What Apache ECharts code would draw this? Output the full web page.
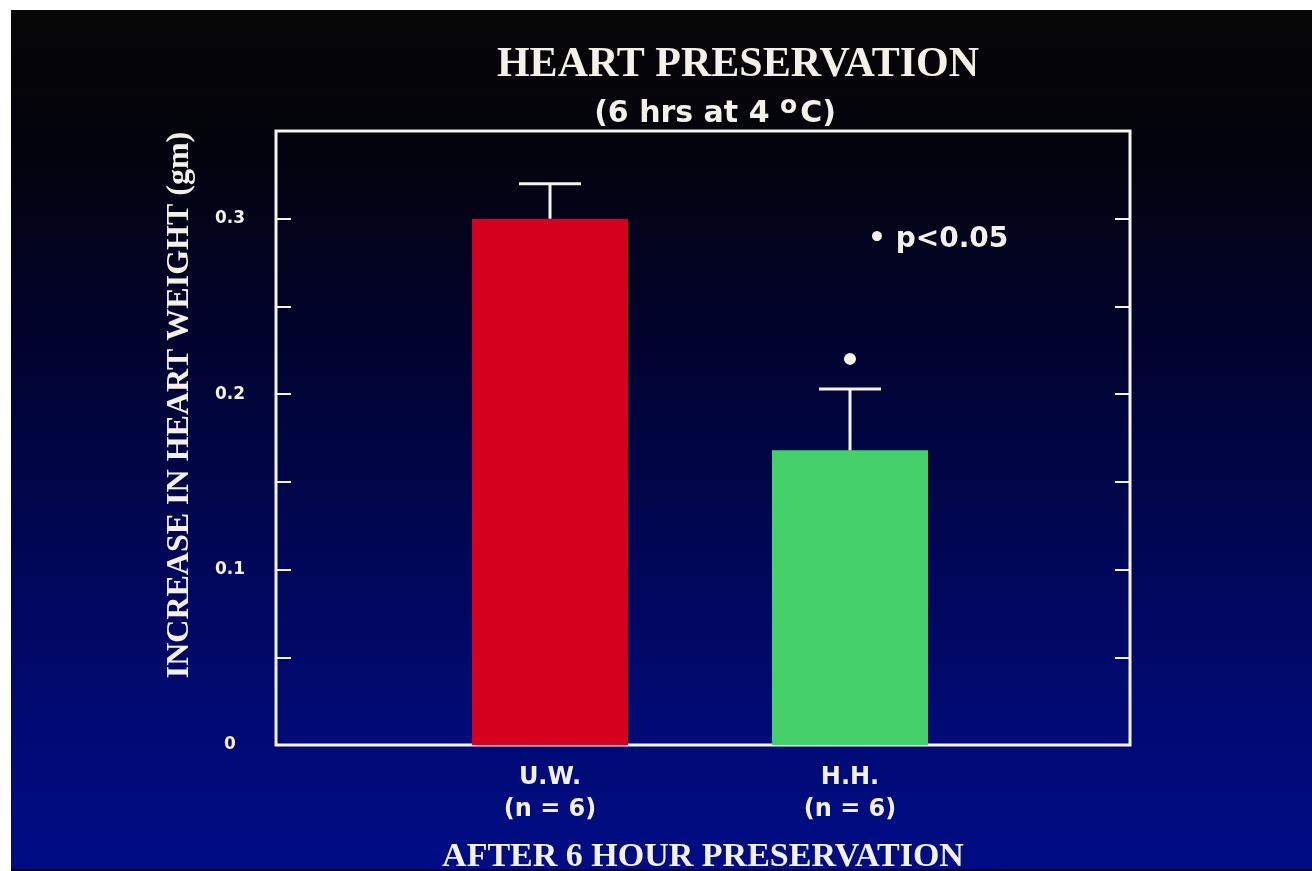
<!DOCTYPE html>
<html>
<head>
<meta charset="utf-8">
<script src="https://cdn.jsdelivr.net/npm/echarts@6/dist/echarts.min.js"></script>
<style>
  html, body { margin: 0; padding: 0; background: #ffffff; width: 1312px; height: 871px; overflow: hidden; }
  #wrap { position: absolute; left: 11px; top: 10px; width: 1301px; height: 861px; background: #000; }
  #chart { position: absolute; left: 0; top: 0; width: 1301px; height: 859px; }
</style>
</head>
<body>
<div id="wrap"><div id="chart"></div></div>
<script>
// ---- data ----
var categories = ['U.W.\n(n = 6)', 'H.H.\n(n = 6)'];
var meanValues = [0.300, 0.168];
var errorUpper = [0.320, 0.203];
var significance = ['', '*'];
var barColors = ['#d4001e', '#45d06c'];
var yTickValues = [0, 0.05, 0.10, 0.15, 0.20, 0.25, 0.30, 0.35];
var yLabelValues = [0, 0.1, 0.2, 0.3];
var yLabelText = ['0', '0.1', '0.2', '0.3'];

var txt = '#f3f1ea';
var sans = 'DejaVu Sans';
var serif = 'Liberation Serif';
var chart = echarts.init(document.getElementById('chart'));

var barData = meanValues.map(function (v, i) {
  return { value: v, itemStyle: { color: barColors[i] } };
});
var errData = meanValues.map(function (v, i) { return [i, v, errorUpper[i]]; });

var option = {
  animation: false,
  backgroundColor: {
    type: 'linear', x: 0, y: 0, x2: 0, y2: 1,
    colorStops: [
      { offset: 0, color: '#060606' },
      { offset: 0.15, color: '#03030b' },
      { offset: 0.38, color: '#01032c' },
      { offset: 0.62, color: '#010654' },
      { offset: 0.85, color: '#000a76' },
      { offset: 1, color: '#000c84' }
    ]
  },
  title: [
    {
      text: 'HEART PRESERVATION',
      left: 722, top: 29, textAlign: 'center',
      textStyle: { color: txt, fontFamily: serif, fontWeight: 'bold', fontSize: 42 }
    },
    {
      text: '(6 hrs at 4 {sup|o}C)',
      left: 699, top: 79, textAlign: 'center',
      textStyle: {
        color: txt, fontFamily: sans, fontWeight: 'bold', fontSize: 30,
        rich: {
          sup: { color: txt, fontFamily: sans, fontWeight: 'bold', fontSize: 25, verticalAlign: 'bottom', padding: [0, 3, 15, 0] }
        }
      }
    },
    {
      text: '\u2022 p<0.05',
      left: 852, top: 211,
      textStyle: { color: txt, fontFamily: sans, fontWeight: 'bold', fontSize: 28 }
    }
  ],
  grid: [
    { left: 265, top: 121, width: 854, height: 614, show: true, borderColor: '#f6f4ee', borderWidth: 3, backgroundColor: 'transparent', outerBoundsMode: 'none', containLabel: false },
    { left: 389, top: 121, width: 600, height: 614, outerBoundsMode: 'none', containLabel: false }
  ],
  xAxis: [
    {
      gridIndex: 0, type: 'category', data: [''],
      axisLine: { show: false }, axisTick: { show: false }, axisLabel: { show: false },
      name: 'AFTER 6 HOUR PRESERVATION', nameLocation: 'middle', nameGap: 95,
      nameTextStyle: { color: txt, fontFamily: serif, fontWeight: 'bold', fontSize: 34 }
    },
    {
      gridIndex: 1, type: 'category', data: categories,
      axisLine: { show: false }, axisTick: { show: false },
      axisLabel: { color: txt, fontFamily: sans, fontWeight: 'bold', fontSize: 24, lineHeight: 32, margin: 17 }
    }
  ],
  yAxis: [
    {
      gridIndex: 0, type: 'value', min: 0, max: 0.35, position: 'left',
      axisLine: { show: false },
      splitLine: { show: false },
      axisTick: { show: true, inside: true, length: 15, customValues: yTickValues, lineStyle: { color: '#f6f4ee', width: 2 } },
      axisLabel: {
        customValues: yLabelValues, margin: 46, align: 'center',
        color: txt, fontFamily: sans, fontWeight: 'bold', fontSize: 17,
        formatter: function (v) {
          var idx = yLabelValues.findIndex(function (x) { return Math.abs(x - v) < 1e-9; });
          return idx >= 0 ? yLabelText[idx] : '';
        }
      },
      name: 'INCREASE IN HEART WEIGHT (gm)', nameLocation: 'middle', nameGap: 80, nameRotate: 90,
      nameTextStyle: { color: txt, fontFamily: serif, fontWeight: 'bold', fontSize: 32, padding: [0, 0, 0, 66] }
    },
    {
      gridIndex: 0, type: 'value', min: 0, max: 0.35, position: 'right',
      axisLine: { show: false }, splitLine: { show: false }, axisLabel: { show: false },
      axisTick: { show: true, inside: true, length: 15, customValues: yTickValues, lineStyle: { color: '#f6f4ee', width: 2 } }
    },
    {
      gridIndex: 1, type: 'value', min: 0, max: 0.35, show: false
    }
  ],
  series: [
    {
      type: 'bar', xAxisIndex: 1, yAxisIndex: 2, data: barData, barWidth: 156
    },
    {
      type: 'custom', xAxisIndex: 1, yAxisIndex: 2, data: errData, z: 5,
      renderItem: function (params, api) {
        var i = api.value(0);
        var base = api.coord([i, api.value(1)]);
        var top = api.coord([i, api.value(2)]);
        var half = 31;
        var children = [
          { type: 'line', shape: { x1: base[0], y1: base[1], x2: top[0], y2: top[1] }, style: { stroke: '#f6f4ee', lineWidth: 3 } },
          { type: 'line', shape: { x1: top[0] - half, y1: top[1], x2: top[0] + half, y2: top[1] }, style: { stroke: '#f6f4ee', lineWidth: 3 } }
        ];
        if (significance[params.dataIndex]) {
          children.push({ type: 'circle', shape: { cx: top[0], cy: top[1] - 30, r: 6 }, style: { fill: '#f6f4ee' } });
        }
        return { type: 'group', children: children };
      }
    }
  ]
};
chart.setOption(option);
</script>
</body>
</html>
